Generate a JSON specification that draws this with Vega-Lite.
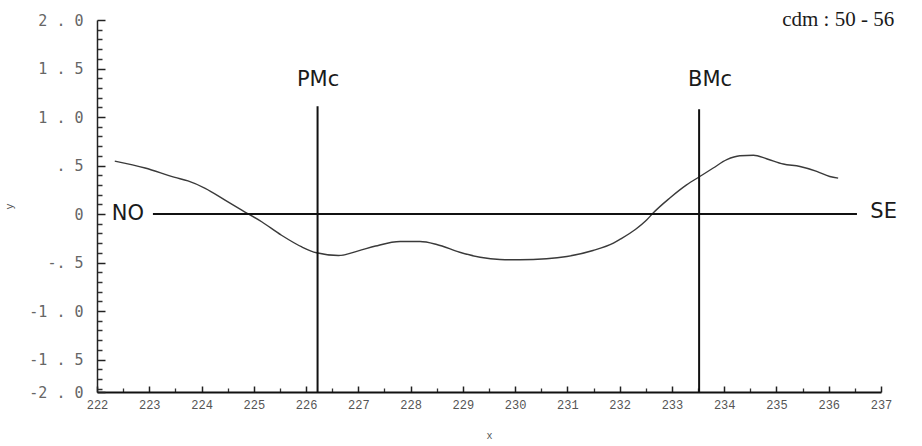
{
  "$schema": "https://vega.github.io/schema/vega-lite/v6.json",
  "width": 784,
  "height": 372,
  "autosize": {"type": "none"},
  "padding": {"left": 97, "top": 20, "right": 41, "bottom": 54},
  "background": "white",
  "config": {"view": {"stroke": null}, "axis": {"grid": false}},
  "datasets": {
    "profile": [
      {"x": 222.34, "y": 0.545},
      {"x": 222.92, "y": 0.474},
      {"x": 223.49, "y": 0.377},
      {"x": 223.74, "y": 0.341},
      {"x": 224.07, "y": 0.265},
      {"x": 224.45, "y": 0.144},
      {"x": 224.77, "y": 0.04},
      {"x": 225.15, "y": -0.08},
      {"x": 225.53, "y": -0.219},
      {"x": 225.92, "y": -0.34},
      {"x": 226.2, "y": -0.4},
      {"x": 226.62, "y": -0.428},
      {"x": 227.0, "y": -0.38},
      {"x": 227.33, "y": -0.33},
      {"x": 227.8, "y": -0.284},
      {"x": 228.18, "y": -0.284},
      {"x": 228.5, "y": -0.314},
      {"x": 228.94, "y": -0.394},
      {"x": 229.33, "y": -0.446},
      {"x": 229.71, "y": -0.469},
      {"x": 230.09, "y": -0.472},
      {"x": 230.6, "y": -0.462},
      {"x": 230.99, "y": -0.438},
      {"x": 231.49, "y": -0.376},
      {"x": 231.88, "y": -0.3},
      {"x": 232.01, "y": -0.26},
      {"x": 232.3, "y": -0.16},
      {"x": 232.52, "y": -0.06},
      {"x": 232.64, "y": 0.01},
      {"x": 232.96, "y": 0.165},
      {"x": 233.28, "y": 0.3},
      {"x": 233.54, "y": 0.389},
      {"x": 233.79, "y": 0.474},
      {"x": 234.05, "y": 0.56},
      {"x": 234.3, "y": 0.6},
      {"x": 234.56, "y": 0.605},
      {"x": 234.81, "y": 0.57},
      {"x": 235.13, "y": 0.515},
      {"x": 235.45, "y": 0.49},
      {"x": 235.77, "y": 0.44},
      {"x": 236.02, "y": 0.387},
      {"x": 236.18, "y": 0.37}
    ],
    "baseline": [{"from": 223.07, "to": 236.54, "level": 0}],
    "markers": [
      {"name": "PMc", "x": 226.22, "bottom": -1.835, "top": 1.11},
      {"name": "BMc", "x": 233.52, "bottom": -1.835, "top": 1.08}
    ],
    "notes": [
      {"label": "NO", "x": 222.59, "y": 0.0},
      {"label": "SE", "x": 237.05, "y": 0.02},
      {"label": "PMc", "x": 226.23, "y": 1.38},
      {"label": "BMc", "x": 233.73, "y": 1.38}
    ],
    "header": [{"label": "cdm : 50 - 56", "x": 236.18, "y": 2.0}]
  },
  "layer": [
    {
      "data": {"name": "profile"},
      "mark": {"type": "line", "color": "#3a3a3a", "strokeWidth": 1.4, "interpolate": "monotone"},
      "encoding": {
        "x": {
          "field": "x", "type": "quantitative",
          "scale": {"domain": [222, 237], "nice": false, "zero": false},
          "axis": {
            "orient": "bottom", "offset": -6, "domain": false,
            "values": [222, 223, 224, 225, 226, 227, 228, 229, 230, 231, 232, 233, 234, 235, 236, 237],
            "format": "d",
            "labelFont": "Liberation Mono", "labelFontSize": 12, "labelColor": "#555",
            "labelPadding": 7, "labelFlush": false,
            "tickSize": 6, "tickColor": "#222", "tickWidth": 1.5,
            "title": "x", "titleFont": "Liberation Mono", "titleFontSize": 10,
            "titleFontWeight": "normal", "titleColor": "#555", "titlePadding": 20
          }
        },
        "y": {
          "field": "y", "type": "quantitative",
          "scale": {"domain": [-1.835, 2], "nice": false, "zero": false},
          "axis": {
            "orient": "left", "offset": -8, "domain": false,
            "values": [-1.835, -1.5, -1, -0.5, 0, 0.5, 1, 1.5, 2],
            "labelExpr": "datum.value < -1.8 ? '-2 . 0' : (datum.value == 0 ? '0' : (datum.value < 0 ? '-' : '') + replace(replace(format(abs(datum.value), '.1f'), '.', ' . '), '0 . ', '. '))",
            "labelFont": "DejaVu Sans Mono", "labelFontSize": 15, "labelColor": "#666",
            "labelPadding": 14, "labelFlush": false,
            "tickSize": 8, "tickColor": "#222", "tickWidth": 1.5,
            "title": "y", "titleFont": "Liberation Mono", "titleFontSize": 10,
            "titleFontWeight": "normal", "titleColor": "#555", "titlePadding": 14
          }
        }
      }
    },
    {
      "data": {"name": "baseline"},
      "mark": {"type": "rule", "color": "#111", "strokeWidth": 2},
      "encoding": {
        "x": {
          "field": "from", "type": "quantitative",
          "axis": {
            "orient": "bottom", "offset": -4,
            "values": [222.5, 223.5, 224.5, 225.5, 226.5, 227.5, 228.5, 229.5, 230.5, 231.5, 232.5, 233.5, 234.5, 235.5, 236.5],
            "labels": false, "domain": false, "title": null,
            "tickSize": 4, "tickColor": "#333", "tickWidth": 1.3
          }
        },
        "x2": {"field": "to"},
        "y": {
          "field": "level", "type": "quantitative",
          "axis": {
            "orient": "left", "offset": -5,
            "values": [-1.8, -1.7, -1.6, -1.4, -1.3, -1.2, -1.1, -0.9, -0.8, -0.7, -0.6, -0.4, -0.3, -0.2, -0.1, 0.1, 0.2, 0.3, 0.4, 0.6, 0.7, 0.8, 0.9, 1.1, 1.2, 1.3, 1.4, 1.6, 1.7, 1.8, 1.9],
            "labels": false, "domain": false, "title": null,
            "tickSize": 5, "tickColor": "#333", "tickWidth": 1.5
          }
        }
      }
    },
    {
      "data": {"name": "markers"},
      "mark": {"type": "rule", "color": "#111", "strokeWidth": 2},
      "encoding": {
        "x": {
          "field": "x", "type": "quantitative",
          "axis": {"orient": "bottom", "ticks": false, "labels": false, "title": null, "domainColor": "#111", "domainWidth": 2}
        },
        "y": {
          "field": "bottom", "type": "quantitative",
          "axis": {"orient": "left", "ticks": false, "labels": false, "title": null, "domainColor": "#222", "domainWidth": 1.5}
        },
        "y2": {"field": "top"}
      }
    },
    {
      "data": {"name": "notes"},
      "mark": {"type": "text", "font": "DejaVu Sans", "fontSize": 21, "color": "#1a1a1a", "align": "center", "baseline": "middle"},
      "encoding": {
        "x": {"field": "x", "type": "quantitative", "axis": null},
        "y": {"field": "y", "type": "quantitative", "axis": null},
        "text": {"field": "label"}
      }
    },
    {
      "data": {"name": "header"},
      "mark": {"type": "text", "font": "Liberation Serif", "fontSize": 21, "color": "#1a1a1a", "align": "center", "baseline": "middle"},
      "encoding": {
        "x": {"field": "x", "type": "quantitative", "axis": null},
        "y": {"field": "y", "type": "quantitative", "axis": null},
        "text": {"field": "label"}
      }
    }
  ],
  "resolve": {"axis": {"x": "independent", "y": "independent"}}
}
